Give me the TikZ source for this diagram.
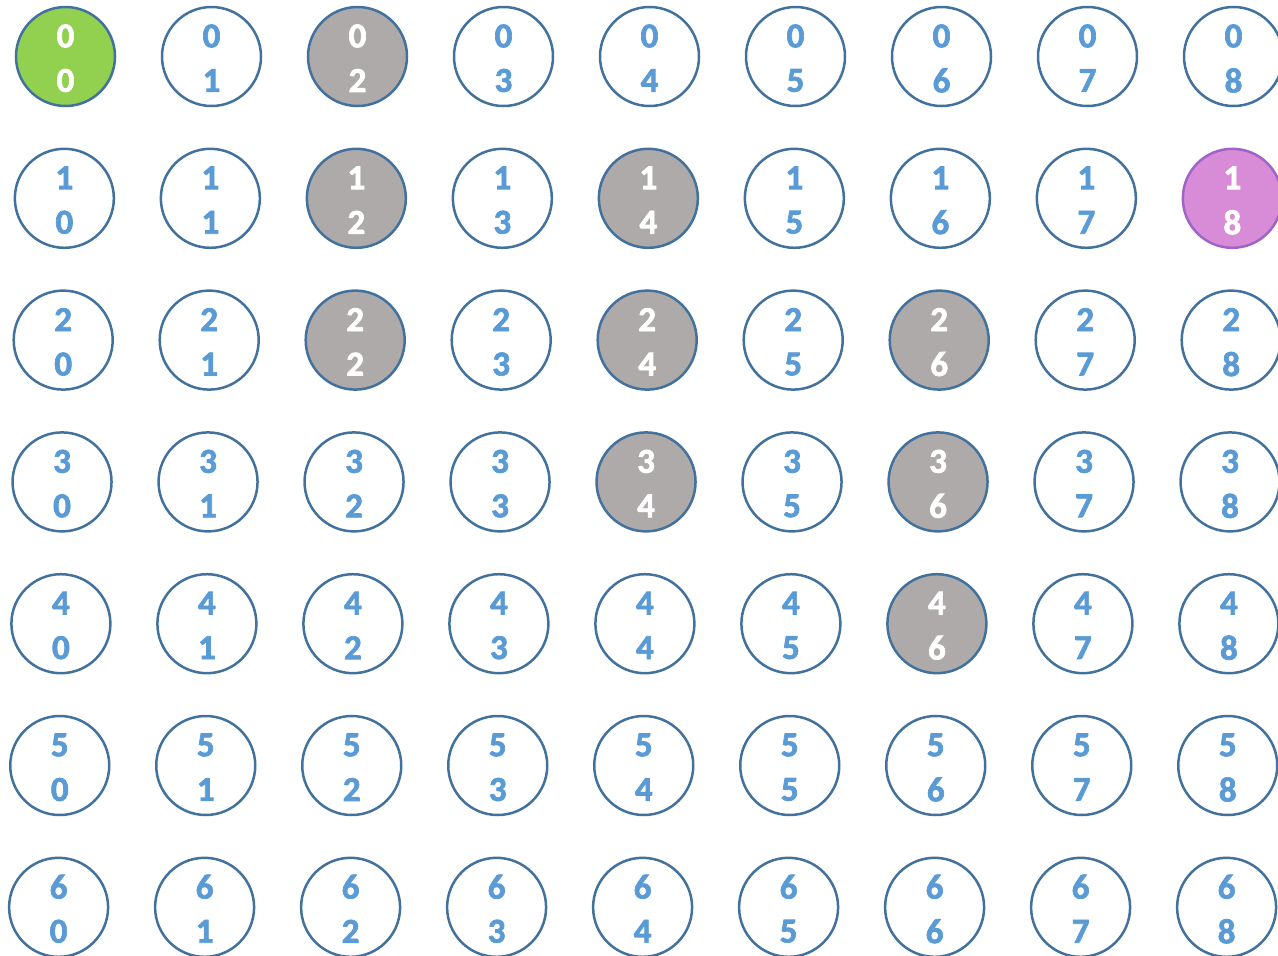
\documentclass[tikz,border=0pt]{standalone}
\usepackage{fontspec}
\setmainfont{Carlito}
\newfontfamily\digfont{Carlito Bold}
\newcommand\heavy[1]{\special{pdf:code 2 Tr 0.7 w}#1\special{pdf:code 0 Tr}}
\definecolor{outl}{RGB}{65,113,156}
\definecolor{txtblue}{RGB}{91,155,213}
\definecolor{greenf}{RGB}{146,208,80}
\definecolor{grayf}{RGB}{174,170,170}
\definecolor{pinkf}{RGB}{216,140,216}
\definecolor{pinko}{RGB}{160,100,200}
\tikzset{
  cell/.style={circle, draw=outl, line width=2.5pt, minimum size=99pt, inner sep=0pt},
  grayc/.style={cell, fill=grayf},
  greenc/.style={cell, fill=greenf},
  pinkc/.style={cell, fill=pinkf, draw=pinko},
  digit/.style={inner sep=0pt, text=txtblue, font=\digfont\fontsize{35}{35}\selectfont},
  wdigit/.style={digit, text=white}
}
\begin{document}
\begin{tikzpicture}[x=1pt,y=-1pt]
\useasboundingbox (0,0) rectangle (1278,956);
\clip (0,0) rectangle (1278,956);
\foreach \r in {0,...,6}{
  \foreach \c in {0,...,8}{
    \def\sty{cell}\def\dsty{digit}
    \ifnum\r\c=0 \def\sty{greenc}\def\dsty{wdigit}\fi
    \ifnum\r\c=18 \def\sty{pinkc}\def\dsty{wdigit}\fi
    \ifnum\r\c=2 \def\sty{grayc}\def\dsty{wdigit}\fi
    \ifnum\r\c=12 \def\sty{grayc}\def\dsty{wdigit}\fi
    \ifnum\r\c=22 \def\sty{grayc}\def\dsty{wdigit}\fi
    \ifnum\r\c=14 \def\sty{grayc}\def\dsty{wdigit}\fi
    \ifnum\r\c=24 \def\sty{grayc}\def\dsty{wdigit}\fi
    \ifnum\r\c=34 \def\sty{grayc}\def\dsty{wdigit}\fi
    \ifnum\r\c=26 \def\sty{grayc}\def\dsty{wdigit}\fi
    \ifnum\r\c=36 \def\sty{grayc}\def\dsty{wdigit}\fi
    \ifnum\r\c=46 \def\sty{grayc}\def\dsty{wdigit}\fi
    \node[\sty] (n-\r-\c) at ({65.5+146*\c-1.15*\r},{56.5+141.8*\r}) {};
    \node[\dsty] (t-\r-\c) at ([yshift=20.5pt]n-\r-\c.center) {\heavy{\r}};
    \node[\dsty] (b-\r-\c) at ([yshift=-24pt]n-\r-\c.center) {\heavy{\c}};
  }
}
\end{tikzpicture}
\end{document}
